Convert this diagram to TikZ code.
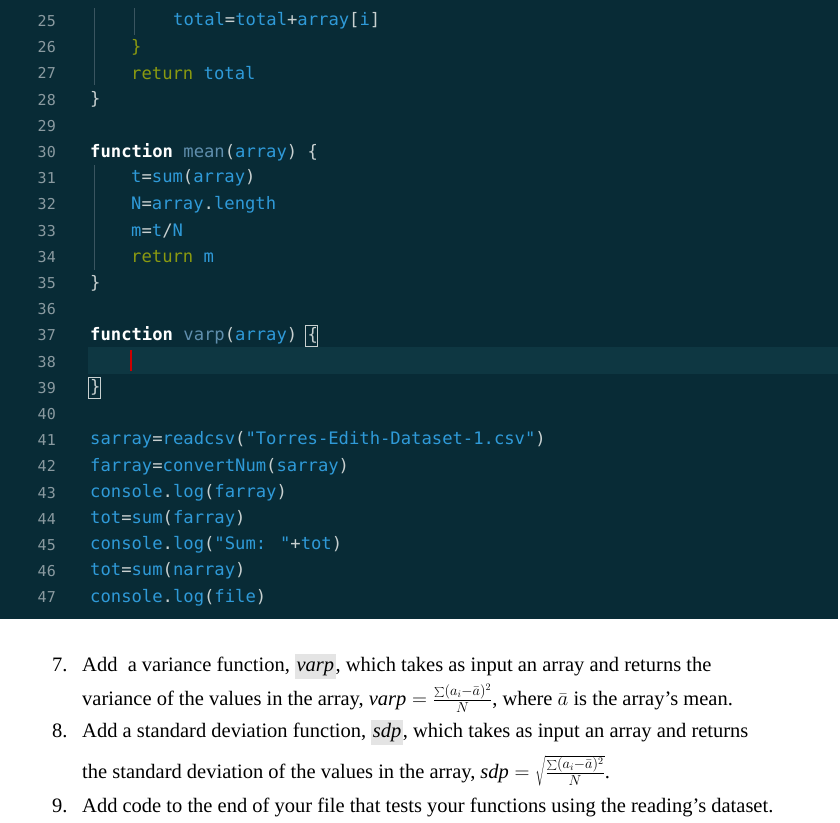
\documentclass[tikz,border=0pt]{standalone}
\usepackage{fontspec}
\setmainfont{Liberation Serif}
\newfontfamily\codefont{DejaVu Sans Mono}
\begin{document}
\begin{tikzpicture}[x=1pt,y=-1pt,
  num/.style={anchor=east,text=numc,font=\codefont\fontsize{15}{15}\selectfont,inner sep=0},
  code/.style={anchor=west,text=plc,font=\codefont\fontsize{17.2}{17}\selectfont,inner sep=0},
  para/.style={anchor=base west,inner sep=0,font=\fontsize{20.5}{22}\selectfont}]
\definecolor{bgc}{HTML}{082B36}
\definecolor{hlc}{HTML}{0E3742}
\definecolor{numc}{HTML}{8A9AA0}
\definecolor{plc}{HTML}{C8D0D0}
\definecolor{idc}{HTML}{2F9AD8}
\definecolor{fnc}{HTML}{5F8EAD}
\definecolor{rtc}{HTML}{8A9A10}
\definecolor{guide}{HTML}{3A5560}
\definecolor{hil}{HTML}{E4E4E4}
\newcommand\ID[1]{\textcolor{idc}{#1}}
\newcommand\FN[1]{\textcolor{fnc}{#1}}
\newcommand\RT[1]{\textcolor{rtc}{#1}}
\newcommand\KW[1]{\textcolor{white}{\bfseries #1}}
\newcommand\HL[1]{{\setlength{\fboxsep}{1.5pt}\colorbox{hil}{\strut#1}}}
\useasboundingbox (0,0) rectangle (840,822);
\fill[white] (0,0) rectangle (840,822);
\fill[bgc] (0,0) rectangle (838,619);
\fill[hlc] (88,347) rectangle (838,374);
\draw[guide,line width=0.8] (94,8) -- (94,85);
\draw[guide,line width=0.8] (134,8) -- (134,35);
\draw[guide,line width=0.8] (94,165) -- (94,270);
\foreach \n [count=\i from 0] in {25,...,47}
  \node[num] (n\n) at (56,21+\i*26.2) {\n};
\node[code] (c25) at (173,21) {\ID{total}=\ID{total}+\ID{array}[\ID{i}]};
\node[code] (c26) at (131,47.2) {\RT{\}}};
\node[code] (c27) at (131,73.4) {\RT{return} \ID{total}};
\node[code] (c28) at (90,99.6) {\}};
\node[code] (c30) at (90,152) {\KW{function} \FN{mean}(\ID{array}) \{};
\node[code] (c31) at (131,178.2) {\ID{t}=\ID{sum}(\ID{array})};
\node[code] (c32) at (131,204.4) {\ID{N}=\ID{array}.\ID{length}};
\node[code] (c33) at (131,230.6) {\ID{m}=\ID{t}/\ID{N}};
\node[code] (c34) at (131,256.8) {\RT{return} \ID{m}};
\node[code] (c35) at (90,283) {\}};
\node[code] (c37) at (90,335.4) {\KW{function} \FN{varp}(\ID{array}) \{};
\draw[plc,line width=0.6] (305,325) rectangle (317,346);
\draw[red!80!black,line width=1.2] (131,350) -- (131,371);
\node[code] (c39) at (90,387.8) {\}};
\draw[plc,line width=0.6] (88,377) rectangle (100,398);
\node[code] (c41) at (90,440.2) {\ID{sarray}=\ID{readcsv}(\ID{"Torres-Edith-Dataset-1.csv"})};
\node[code] (c42) at (90,466.4) {\ID{farray}=\ID{convertNum}(\ID{sarray})};
\node[code] (c43) at (90,492.6) {\ID{console}.\ID{log}(\ID{farray})};
\node[code] (c44) at (90,518.8) {\ID{tot}=\ID{sum}(\ID{farray})};
\node[code] (c45) at (90,545) {\ID{console}.\ID{log}(\ID{"Sum: "}+\ID{tot})};
\node[code] (c46) at (90,571.2) {\ID{tot}=\ID{sum}(\ID{narray})};
\node[code] (c47) at (90,597.4) {\ID{console}.\ID{log}(\ID{file})};
% text
\node[para] (i7) at (52,671) {7.};
\node[para] (t7) at (82,671) {Add\ \ a variance function, \HL{\textit{varp}}, which takes as input an array and returns the};
\node[para] (t7b) at (82,705) {variance of the values in the array, $\mathit{varp}=\frac{\sum(a_i-\bar a)^2}{N}$, where $\bar a$ is the array's mean.};
\node[para] (i8) at (52,737) {8.};
\node[para] (t8) at (82,737) {Add a standard deviation function, \HL{\textit{sdp}}, which takes as input an array and returns};
\node[para] (t8b) at (82,778) {the standard deviation of the values in the array, $\mathit{sdp}=\sqrt{\frac{\sum(a_i-\bar a)^2}{N}}$.};
\node[para] (i9) at (52,812) {9.};
\node[para] (t9) at (82,812) {Add code to the end of your file that tests your functions using the reading's dataset.};
\end{tikzpicture}
\end{document}
